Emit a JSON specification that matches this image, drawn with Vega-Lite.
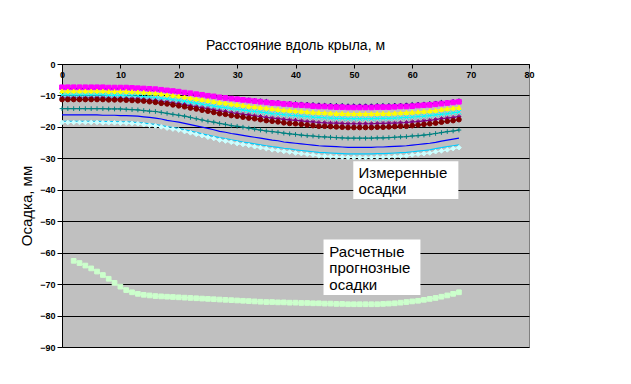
{
"$schema":"https://vega.github.io/schema/vega-lite/v6.json",
"width":467,"height":283,
"autosize":{"type":"none"},
"padding":{"left":62,"top":64,"right":102,"bottom":37},
"background":"white",
"title":{"text":"Расстояние вдоль крыла, м","fontSize":14,"fontWeight":"normal","font":"Liberation Sans","color":"black","offset":7},
"config":{"view":{"fill":"#c0c0c0","stroke":"#808080","strokeWidth":1},"font":"Liberation Sans"},
"datasets":{
"series":[
{"s":"N","x":0,"y":-7.8},{"s":"N","x":1,"y":-7.8},{"s":"N","x":2,"y":-7.8},{"s":"N","x":3,"y":-7.8},{"s":"N","x":4,"y":-7.8},{"s":"N","x":5,"y":-7.8},{"s":"N","x":6,"y":-7.8},{"s":"N","x":7,"y":-7.8},{"s":"N","x":8,"y":-7.9},{"s":"N","x":9,"y":-7.9},{"s":"N","x":10,"y":-7.9},{"s":"N","x":11,"y":-7.9},{"s":"N","x":12,"y":-8.0},{"s":"N","x":13,"y":-8.0},{"s":"N","x":14,"y":-8.1},{"s":"N","x":15,"y":-8.3},{"s":"N","x":16,"y":-8.4},{"s":"N","x":17,"y":-8.5},{"s":"N","x":18,"y":-8.7},{"s":"N","x":19,"y":-8.9},{"s":"N","x":20,"y":-9.0},{"s":"N","x":21,"y":-9.3},{"s":"N","x":22,"y":-9.5},{"s":"N","x":23,"y":-9.7},{"s":"N","x":24,"y":-9.9},{"s":"N","x":25,"y":-10.2},{"s":"N","x":26,"y":-10.4},{"s":"N","x":27,"y":-10.6},{"s":"N","x":28,"y":-10.8},{"s":"N","x":29,"y":-11.0},{"s":"N","x":30,"y":-11.2},{"s":"N","x":31,"y":-11.3},{"s":"N","x":32,"y":-11.5},{"s":"N","x":33,"y":-11.7},{"s":"N","x":34,"y":-11.8},{"s":"N","x":35,"y":-12.0},{"s":"N","x":36,"y":-12.2},{"s":"N","x":37,"y":-12.3},{"s":"N","x":38,"y":-12.5},{"s":"N","x":39,"y":-12.6},{"s":"N","x":40,"y":-12.7},{"s":"N","x":41,"y":-12.8},{"s":"N","x":42,"y":-12.9},{"s":"N","x":43,"y":-13.0},{"s":"N","x":44,"y":-13.1},{"s":"N","x":45,"y":-13.2},{"s":"N","x":46,"y":-13.2},{"s":"N","x":47,"y":-13.3},{"s":"N","x":48,"y":-13.3},{"s":"N","x":49,"y":-13.4},{"s":"N","x":50,"y":-13.4},{"s":"N","x":51,"y":-13.4},{"s":"N","x":52,"y":-13.4},{"s":"N","x":53,"y":-13.4},{"s":"N","x":54,"y":-13.3},{"s":"N","x":55,"y":-13.3},{"s":"N","x":56,"y":-13.3},{"s":"N","x":57,"y":-13.2},{"s":"N","x":58,"y":-13.2},{"s":"N","x":59,"y":-13.1},{"s":"N","x":60,"y":-13.0},{"s":"N","x":61,"y":-12.9},{"s":"N","x":62,"y":-12.8},{"s":"N","x":63,"y":-12.7},{"s":"N","x":64,"y":-12.5},{"s":"N","x":65,"y":-12.3},{"s":"N","x":66,"y":-12.2},{"s":"N","x":67,"y":-12.0},{"s":"N","x":68,"y":-11.8},
{"s":"M","x":0,"y":-7.4},{"s":"M","x":1,"y":-7.4},{"s":"M","x":2,"y":-7.4},{"s":"M","x":3,"y":-7.4},{"s":"M","x":4,"y":-7.4},{"s":"M","x":5,"y":-7.4},{"s":"M","x":6,"y":-7.4},{"s":"M","x":7,"y":-7.4},{"s":"M","x":8,"y":-7.5},{"s":"M","x":9,"y":-7.5},{"s":"M","x":10,"y":-7.5},{"s":"M","x":11,"y":-7.5},{"s":"M","x":12,"y":-7.6},{"s":"M","x":13,"y":-7.7},{"s":"M","x":14,"y":-7.8},{"s":"M","x":15,"y":-7.9},{"s":"M","x":16,"y":-8.0},{"s":"M","x":17,"y":-8.2},{"s":"M","x":18,"y":-8.4},{"s":"M","x":19,"y":-8.6},{"s":"M","x":20,"y":-8.8},{"s":"M","x":21,"y":-9.1},{"s":"M","x":22,"y":-9.3},{"s":"M","x":23,"y":-9.6},{"s":"M","x":24,"y":-9.8},{"s":"M","x":25,"y":-10.1},{"s":"M","x":26,"y":-10.3},{"s":"M","x":27,"y":-10.6},{"s":"M","x":28,"y":-10.8},{"s":"M","x":29,"y":-11.0},{"s":"M","x":30,"y":-11.2},{"s":"M","x":31,"y":-11.4},{"s":"M","x":32,"y":-11.6},{"s":"M","x":33,"y":-11.8},{"s":"M","x":34,"y":-12.0},{"s":"M","x":35,"y":-12.2},{"s":"M","x":36,"y":-12.4},{"s":"M","x":37,"y":-12.5},{"s":"M","x":38,"y":-12.7},{"s":"M","x":39,"y":-12.8},{"s":"M","x":40,"y":-13.0},{"s":"M","x":41,"y":-13.1},{"s":"M","x":42,"y":-13.2},{"s":"M","x":43,"y":-13.4},{"s":"M","x":44,"y":-13.5},{"s":"M","x":45,"y":-13.5},{"s":"M","x":46,"y":-13.6},{"s":"M","x":47,"y":-13.7},{"s":"M","x":48,"y":-13.7},{"s":"M","x":49,"y":-13.8},{"s":"M","x":50,"y":-13.8},{"s":"M","x":51,"y":-13.8},{"s":"M","x":52,"y":-13.8},{"s":"M","x":53,"y":-13.8},{"s":"M","x":54,"y":-13.7},{"s":"M","x":55,"y":-13.7},{"s":"M","x":56,"y":-13.7},{"s":"M","x":57,"y":-13.6},{"s":"M","x":58,"y":-13.5},{"s":"M","x":59,"y":-13.5},{"s":"M","x":60,"y":-13.4},{"s":"M","x":61,"y":-13.2},{"s":"M","x":62,"y":-13.1},{"s":"M","x":63,"y":-13.0},{"s":"M","x":64,"y":-12.8},{"s":"M","x":65,"y":-12.6},{"s":"M","x":66,"y":-12.4},{"s":"M","x":67,"y":-12.2},{"s":"M","x":68,"y":-12.0},
{"s":"Y","x":0,"y":-8.6},{"s":"Y","x":1,"y":-8.6},{"s":"Y","x":2,"y":-8.6},{"s":"Y","x":3,"y":-8.6},{"s":"Y","x":4,"y":-8.6},{"s":"Y","x":5,"y":-8.6},{"s":"Y","x":6,"y":-8.6},{"s":"Y","x":7,"y":-8.6},{"s":"Y","x":8,"y":-8.7},{"s":"Y","x":9,"y":-8.7},{"s":"Y","x":10,"y":-8.7},{"s":"Y","x":11,"y":-8.7},{"s":"Y","x":12,"y":-8.8},{"s":"Y","x":13,"y":-8.9},{"s":"Y","x":14,"y":-9.0},{"s":"Y","x":15,"y":-9.2},{"s":"Y","x":16,"y":-9.3},{"s":"Y","x":17,"y":-9.5},{"s":"Y","x":18,"y":-9.8},{"s":"Y","x":19,"y":-10.0},{"s":"Y","x":20,"y":-10.2},{"s":"Y","x":21,"y":-10.5},{"s":"Y","x":22,"y":-10.8},{"s":"Y","x":23,"y":-11.1},{"s":"Y","x":24,"y":-11.3},{"s":"Y","x":25,"y":-11.6},{"s":"Y","x":26,"y":-11.9},{"s":"Y","x":27,"y":-12.2},{"s":"Y","x":28,"y":-12.4},{"s":"Y","x":29,"y":-12.7},{"s":"Y","x":30,"y":-12.9},{"s":"Y","x":31,"y":-13.1},{"s":"Y","x":32,"y":-13.4},{"s":"Y","x":33,"y":-13.6},{"s":"Y","x":34,"y":-13.8},{"s":"Y","x":35,"y":-14.0},{"s":"Y","x":36,"y":-14.2},{"s":"Y","x":37,"y":-14.4},{"s":"Y","x":38,"y":-14.6},{"s":"Y","x":39,"y":-14.7},{"s":"Y","x":40,"y":-14.9},{"s":"Y","x":41,"y":-15.0},{"s":"Y","x":42,"y":-15.2},{"s":"Y","x":43,"y":-15.3},{"s":"Y","x":44,"y":-15.4},{"s":"Y","x":45,"y":-15.5},{"s":"Y","x":46,"y":-15.6},{"s":"Y","x":47,"y":-15.7},{"s":"Y","x":48,"y":-15.7},{"s":"Y","x":49,"y":-15.8},{"s":"Y","x":50,"y":-15.8},{"s":"Y","x":51,"y":-15.8},{"s":"Y","x":52,"y":-15.8},{"s":"Y","x":53,"y":-15.8},{"s":"Y","x":54,"y":-15.7},{"s":"Y","x":55,"y":-15.7},{"s":"Y","x":56,"y":-15.7},{"s":"Y","x":57,"y":-15.6},{"s":"Y","x":58,"y":-15.5},{"s":"Y","x":59,"y":-15.4},{"s":"Y","x":60,"y":-15.3},{"s":"Y","x":61,"y":-15.2},{"s":"Y","x":62,"y":-15.0},{"s":"Y","x":63,"y":-14.9},{"s":"Y","x":64,"y":-14.7},{"s":"Y","x":65,"y":-14.4},{"s":"Y","x":66,"y":-14.2},{"s":"Y","x":67,"y":-14.0},{"s":"Y","x":68,"y":-13.8},
{"s":"C","x":0,"y":-9.9},{"s":"C","x":1,"y":-9.9},{"s":"C","x":2,"y":-9.9},{"s":"C","x":3,"y":-9.9},{"s":"C","x":4,"y":-9.9},{"s":"C","x":5,"y":-9.9},{"s":"C","x":6,"y":-9.9},{"s":"C","x":7,"y":-9.9},{"s":"C","x":8,"y":-10.0},{"s":"C","x":9,"y":-10.0},{"s":"C","x":10,"y":-10.0},{"s":"C","x":11,"y":-10.1},{"s":"C","x":12,"y":-10.1},{"s":"C","x":13,"y":-10.2},{"s":"C","x":14,"y":-10.4},{"s":"C","x":15,"y":-10.5},{"s":"C","x":16,"y":-10.7},{"s":"C","x":17,"y":-10.9},{"s":"C","x":18,"y":-11.1},{"s":"C","x":19,"y":-11.3},{"s":"C","x":20,"y":-11.6},{"s":"C","x":21,"y":-11.9},{"s":"C","x":22,"y":-12.2},{"s":"C","x":23,"y":-12.5},{"s":"C","x":24,"y":-12.8},{"s":"C","x":25,"y":-13.1},{"s":"C","x":26,"y":-13.4},{"s":"C","x":27,"y":-13.7},{"s":"C","x":28,"y":-13.9},{"s":"C","x":29,"y":-14.2},{"s":"C","x":30,"y":-14.4},{"s":"C","x":31,"y":-14.6},{"s":"C","x":32,"y":-14.9},{"s":"C","x":33,"y":-15.1},{"s":"C","x":34,"y":-15.3},{"s":"C","x":35,"y":-15.5},{"s":"C","x":36,"y":-15.8},{"s":"C","x":37,"y":-15.9},{"s":"C","x":38,"y":-16.1},{"s":"C","x":39,"y":-16.3},{"s":"C","x":40,"y":-16.4},{"s":"C","x":41,"y":-16.6},{"s":"C","x":42,"y":-16.7},{"s":"C","x":43,"y":-16.9},{"s":"C","x":44,"y":-17.0},{"s":"C","x":45,"y":-17.1},{"s":"C","x":46,"y":-17.2},{"s":"C","x":47,"y":-17.3},{"s":"C","x":48,"y":-17.3},{"s":"C","x":49,"y":-17.4},{"s":"C","x":50,"y":-17.4},{"s":"C","x":51,"y":-17.4},{"s":"C","x":52,"y":-17.4},{"s":"C","x":53,"y":-17.4},{"s":"C","x":54,"y":-17.3},{"s":"C","x":55,"y":-17.3},{"s":"C","x":56,"y":-17.3},{"s":"C","x":57,"y":-17.2},{"s":"C","x":58,"y":-17.1},{"s":"C","x":59,"y":-17.0},{"s":"C","x":60,"y":-16.9},{"s":"C","x":61,"y":-16.7},{"s":"C","x":62,"y":-16.6},{"s":"C","x":63,"y":-16.4},{"s":"C","x":64,"y":-16.2},{"s":"C","x":65,"y":-16.0},{"s":"C","x":66,"y":-15.8},{"s":"C","x":67,"y":-15.5},{"s":"C","x":68,"y":-15.3},
{"s":"P","x":0,"y":-10.8},{"s":"P","x":1,"y":-10.8},{"s":"P","x":2,"y":-10.8},{"s":"P","x":3,"y":-10.8},{"s":"P","x":4,"y":-10.8},{"s":"P","x":5,"y":-10.8},{"s":"P","x":6,"y":-10.8},{"s":"P","x":7,"y":-10.8},{"s":"P","x":8,"y":-10.9},{"s":"P","x":9,"y":-10.9},{"s":"P","x":10,"y":-10.9},{"s":"P","x":11,"y":-11.0},{"s":"P","x":12,"y":-11.1},{"s":"P","x":13,"y":-11.1},{"s":"P","x":14,"y":-11.3},{"s":"P","x":15,"y":-11.5},{"s":"P","x":16,"y":-11.6},{"s":"P","x":17,"y":-11.9},{"s":"P","x":18,"y":-12.1},{"s":"P","x":19,"y":-12.4},{"s":"P","x":20,"y":-12.6},{"s":"P","x":21,"y":-12.9},{"s":"P","x":22,"y":-13.3},{"s":"P","x":23,"y":-13.6},{"s":"P","x":24,"y":-13.9},{"s":"P","x":25,"y":-14.2},{"s":"P","x":26,"y":-14.6},{"s":"P","x":27,"y":-14.9},{"s":"P","x":28,"y":-15.1},{"s":"P","x":29,"y":-15.5},{"s":"P","x":30,"y":-15.7},{"s":"P","x":31,"y":-16.0},{"s":"P","x":32,"y":-16.2},{"s":"P","x":33,"y":-16.5},{"s":"P","x":34,"y":-16.7},{"s":"P","x":35,"y":-17.0},{"s":"P","x":36,"y":-17.2},{"s":"P","x":37,"y":-17.4},{"s":"P","x":38,"y":-17.6},{"s":"P","x":39,"y":-17.8},{"s":"P","x":40,"y":-17.9},{"s":"P","x":41,"y":-18.1},{"s":"P","x":42,"y":-18.3},{"s":"P","x":43,"y":-18.4},{"s":"P","x":44,"y":-18.6},{"s":"P","x":45,"y":-18.7},{"s":"P","x":46,"y":-18.8},{"s":"P","x":47,"y":-18.8},{"s":"P","x":48,"y":-18.9},{"s":"P","x":49,"y":-19.0},{"s":"P","x":50,"y":-19.0},{"s":"P","x":51,"y":-19.0},{"s":"P","x":52,"y":-19.0},{"s":"P","x":53,"y":-19.0},{"s":"P","x":54,"y":-18.9},{"s":"P","x":55,"y":-18.9},{"s":"P","x":56,"y":-18.8},{"s":"P","x":57,"y":-18.8},{"s":"P","x":58,"y":-18.7},{"s":"P","x":59,"y":-18.6},{"s":"P","x":60,"y":-18.4},{"s":"P","x":61,"y":-18.3},{"s":"P","x":62,"y":-18.1},{"s":"P","x":63,"y":-17.9},{"s":"P","x":64,"y":-17.7},{"s":"P","x":65,"y":-17.4},{"s":"P","x":66,"y":-17.2},{"s":"P","x":67,"y":-17.0},{"s":"P","x":68,"y":-16.7},
{"s":"R","x":0,"y":-11.3},{"s":"R","x":1,"y":-11.3},{"s":"R","x":2,"y":-11.3},{"s":"R","x":3,"y":-11.3},{"s":"R","x":4,"y":-11.3},{"s":"R","x":5,"y":-11.3},{"s":"R","x":6,"y":-11.3},{"s":"R","x":7,"y":-11.3},{"s":"R","x":8,"y":-11.4},{"s":"R","x":9,"y":-11.4},{"s":"R","x":10,"y":-11.4},{"s":"R","x":11,"y":-11.5},{"s":"R","x":12,"y":-11.6},{"s":"R","x":13,"y":-11.7},{"s":"R","x":14,"y":-11.8},{"s":"R","x":15,"y":-12.0},{"s":"R","x":16,"y":-12.2},{"s":"R","x":17,"y":-12.5},{"s":"R","x":18,"y":-12.7},{"s":"R","x":19,"y":-13.0},{"s":"R","x":20,"y":-13.3},{"s":"R","x":21,"y":-13.6},{"s":"R","x":22,"y":-14.0},{"s":"R","x":23,"y":-14.3},{"s":"R","x":24,"y":-14.7},{"s":"R","x":25,"y":-15.0},{"s":"R","x":26,"y":-15.4},{"s":"R","x":27,"y":-15.8},{"s":"R","x":28,"y":-16.0},{"s":"R","x":29,"y":-16.4},{"s":"R","x":30,"y":-16.6},{"s":"R","x":31,"y":-16.9},{"s":"R","x":32,"y":-17.2},{"s":"R","x":33,"y":-17.4},{"s":"R","x":34,"y":-17.7},{"s":"R","x":35,"y":-18.0},{"s":"R","x":36,"y":-18.2},{"s":"R","x":37,"y":-18.4},{"s":"R","x":38,"y":-18.7},{"s":"R","x":39,"y":-18.9},{"s":"R","x":40,"y":-19.0},{"s":"R","x":41,"y":-19.2},{"s":"R","x":42,"y":-19.4},{"s":"R","x":43,"y":-19.6},{"s":"R","x":44,"y":-19.8},{"s":"R","x":45,"y":-19.8},{"s":"R","x":46,"y":-19.9},{"s":"R","x":47,"y":-20.0},{"s":"R","x":48,"y":-20.1},{"s":"R","x":49,"y":-20.2},{"s":"R","x":50,"y":-20.2},{"s":"R","x":51,"y":-20.2},{"s":"R","x":52,"y":-20.2},{"s":"R","x":53,"y":-20.2},{"s":"R","x":54,"y":-20.1},{"s":"R","x":55,"y":-20.1},{"s":"R","x":56,"y":-20.0},{"s":"R","x":57,"y":-19.9},{"s":"R","x":58,"y":-19.8},{"s":"R","x":59,"y":-19.8},{"s":"R","x":60,"y":-19.6},{"s":"R","x":61,"y":-19.4},{"s":"R","x":62,"y":-19.2},{"s":"R","x":63,"y":-19.0},{"s":"R","x":64,"y":-18.8},{"s":"R","x":65,"y":-18.5},{"s":"R","x":66,"y":-18.2},{"s":"R","x":67,"y":-18.0},{"s":"R","x":68,"y":-17.7},
{"s":"T","x":0,"y":-14.2},{"s":"T","x":1,"y":-14.2},{"s":"T","x":2,"y":-14.2},{"s":"T","x":3,"y":-14.2},{"s":"T","x":4,"y":-14.2},{"s":"T","x":5,"y":-14.2},{"s":"T","x":6,"y":-14.2},{"s":"T","x":7,"y":-14.2},{"s":"T","x":8,"y":-14.3},{"s":"T","x":9,"y":-14.3},{"s":"T","x":10,"y":-14.3},{"s":"T","x":11,"y":-14.4},{"s":"T","x":12,"y":-14.5},{"s":"T","x":13,"y":-14.6},{"s":"T","x":14,"y":-14.8},{"s":"T","x":15,"y":-15.0},{"s":"T","x":16,"y":-15.1},{"s":"T","x":17,"y":-15.4},{"s":"T","x":18,"y":-15.7},{"s":"T","x":19,"y":-16.0},{"s":"T","x":20,"y":-16.3},{"s":"T","x":21,"y":-16.6},{"s":"T","x":22,"y":-17.0},{"s":"T","x":23,"y":-17.4},{"s":"T","x":24,"y":-17.8},{"s":"T","x":25,"y":-18.2},{"s":"T","x":26,"y":-18.5},{"s":"T","x":27,"y":-18.9},{"s":"T","x":28,"y":-19.2},{"s":"T","x":29,"y":-19.6},{"s":"T","x":30,"y":-19.8},{"s":"T","x":31,"y":-20.1},{"s":"T","x":32,"y":-20.4},{"s":"T","x":33,"y":-20.7},{"s":"T","x":34,"y":-21.0},{"s":"T","x":35,"y":-21.3},{"s":"T","x":36,"y":-21.5},{"s":"T","x":37,"y":-21.7},{"s":"T","x":38,"y":-22.0},{"s":"T","x":39,"y":-22.2},{"s":"T","x":40,"y":-22.4},{"s":"T","x":41,"y":-22.6},{"s":"T","x":42,"y":-22.8},{"s":"T","x":43,"y":-22.9},{"s":"T","x":44,"y":-23.1},{"s":"T","x":45,"y":-23.2},{"s":"T","x":46,"y":-23.3},{"s":"T","x":47,"y":-23.4},{"s":"T","x":48,"y":-23.5},{"s":"T","x":49,"y":-23.6},{"s":"T","x":50,"y":-23.6},{"s":"T","x":51,"y":-23.6},{"s":"T","x":52,"y":-23.6},{"s":"T","x":53,"y":-23.6},{"s":"T","x":54,"y":-23.5},{"s":"T","x":55,"y":-23.5},{"s":"T","x":56,"y":-23.4},{"s":"T","x":57,"y":-23.3},{"s":"T","x":58,"y":-23.2},{"s":"T","x":59,"y":-23.1},{"s":"T","x":60,"y":-22.9},{"s":"T","x":61,"y":-22.8},{"s":"T","x":62,"y":-22.6},{"s":"T","x":63,"y":-22.4},{"s":"T","x":64,"y":-22.1},{"s":"T","x":65,"y":-21.8},{"s":"T","x":66,"y":-21.5},{"s":"T","x":67,"y":-21.3},{"s":"T","x":68,"y":-21.0},
{"s":"B","x":0,"y":-16.2},{"s":"B","x":1,"y":-16.2},{"s":"B","x":2,"y":-16.2},{"s":"B","x":3,"y":-16.2},{"s":"B","x":4,"y":-16.2},{"s":"B","x":5,"y":-16.2},{"s":"B","x":6,"y":-16.2},{"s":"B","x":7,"y":-16.3},{"s":"B","x":8,"y":-16.3},{"s":"B","x":9,"y":-16.3},{"s":"B","x":10,"y":-16.4},{"s":"B","x":11,"y":-16.4},{"s":"B","x":12,"y":-16.5},{"s":"B","x":13,"y":-16.6},{"s":"B","x":14,"y":-16.8},{"s":"B","x":15,"y":-17.0},{"s":"B","x":16,"y":-17.2},{"s":"B","x":17,"y":-17.5},{"s":"B","x":18,"y":-17.9},{"s":"B","x":19,"y":-18.2},{"s":"B","x":20,"y":-18.5},{"s":"B","x":21,"y":-18.9},{"s":"B","x":22,"y":-19.3},{"s":"B","x":23,"y":-19.7},{"s":"B","x":24,"y":-20.1},{"s":"B","x":25,"y":-20.5},{"s":"B","x":26,"y":-20.9},{"s":"B","x":27,"y":-21.4},{"s":"B","x":28,"y":-21.7},{"s":"B","x":29,"y":-22.1},{"s":"B","x":30,"y":-22.4},{"s":"B","x":31,"y":-22.7},{"s":"B","x":32,"y":-23.0},{"s":"B","x":33,"y":-23.3},{"s":"B","x":34,"y":-23.6},{"s":"B","x":35,"y":-23.9},{"s":"B","x":36,"y":-24.2},{"s":"B","x":37,"y":-24.4},{"s":"B","x":38,"y":-24.8},{"s":"B","x":39,"y":-25.0},{"s":"B","x":40,"y":-25.2},{"s":"B","x":41,"y":-25.4},{"s":"B","x":42,"y":-25.6},{"s":"B","x":43,"y":-25.8},{"s":"B","x":44,"y":-26.0},{"s":"B","x":45,"y":-26.1},{"s":"B","x":46,"y":-26.2},{"s":"B","x":47,"y":-26.3},{"s":"B","x":48,"y":-26.4},{"s":"B","x":49,"y":-26.5},{"s":"B","x":50,"y":-26.5},{"s":"B","x":51,"y":-26.5},{"s":"B","x":52,"y":-26.5},{"s":"B","x":53,"y":-26.5},{"s":"B","x":54,"y":-26.4},{"s":"B","x":55,"y":-26.4},{"s":"B","x":56,"y":-26.3},{"s":"B","x":57,"y":-26.2},{"s":"B","x":58,"y":-26.1},{"s":"B","x":59,"y":-26.0},{"s":"B","x":60,"y":-25.8},{"s":"B","x":61,"y":-25.6},{"s":"B","x":62,"y":-25.4},{"s":"B","x":63,"y":-25.2},{"s":"B","x":64,"y":-24.9},{"s":"B","x":65,"y":-24.5},{"s":"B","x":66,"y":-24.2},{"s":"B","x":67,"y":-23.9},{"s":"B","x":68,"y":-23.6},
{"s":"S","x":0,"y":-18.2},{"s":"S","x":1,"y":-18.2},{"s":"S","x":2,"y":-18.2},{"s":"S","x":3,"y":-18.2},{"s":"S","x":4,"y":-18.2},{"s":"S","x":5,"y":-18.2},{"s":"S","x":6,"y":-18.2},{"s":"S","x":7,"y":-18.3},{"s":"S","x":8,"y":-18.3},{"s":"S","x":9,"y":-18.3},{"s":"S","x":10,"y":-18.4},{"s":"S","x":11,"y":-18.4},{"s":"S","x":12,"y":-18.5},{"s":"S","x":13,"y":-18.6},{"s":"S","x":14,"y":-18.8},{"s":"S","x":15,"y":-19.0},{"s":"S","x":16,"y":-19.2},{"s":"S","x":17,"y":-19.6},{"s":"S","x":18,"y":-19.9},{"s":"S","x":19,"y":-20.2},{"s":"S","x":20,"y":-20.5},{"s":"S","x":21,"y":-20.9},{"s":"S","x":22,"y":-21.3},{"s":"S","x":23,"y":-21.7},{"s":"S","x":24,"y":-22.2},{"s":"S","x":25,"y":-22.6},{"s":"S","x":26,"y":-23.0},{"s":"S","x":27,"y":-23.4},{"s":"S","x":28,"y":-23.7},{"s":"S","x":29,"y":-24.1},{"s":"S","x":30,"y":-24.4},{"s":"S","x":31,"y":-24.8},{"s":"S","x":32,"y":-25.1},{"s":"S","x":33,"y":-25.4},{"s":"S","x":34,"y":-25.7},{"s":"S","x":35,"y":-26.0},{"s":"S","x":36,"y":-26.3},{"s":"S","x":37,"y":-26.5},{"s":"S","x":38,"y":-26.8},{"s":"S","x":39,"y":-27.0},{"s":"S","x":40,"y":-27.3},{"s":"S","x":41,"y":-27.5},{"s":"S","x":42,"y":-27.7},{"s":"S","x":43,"y":-27.9},{"s":"S","x":44,"y":-28.1},{"s":"S","x":45,"y":-28.2},{"s":"S","x":46,"y":-28.3},{"s":"S","x":47,"y":-28.4},{"s":"S","x":48,"y":-28.5},{"s":"S","x":49,"y":-28.6},{"s":"S","x":50,"y":-28.6},{"s":"S","x":51,"y":-28.6},{"s":"S","x":52,"y":-28.6},{"s":"S","x":53,"y":-28.6},{"s":"S","x":54,"y":-28.5},{"s":"S","x":55,"y":-28.5},{"s":"S","x":56,"y":-28.4},{"s":"S","x":57,"y":-28.3},{"s":"S","x":58,"y":-28.2},{"s":"S","x":59,"y":-28.1},{"s":"S","x":60,"y":-27.9},{"s":"S","x":61,"y":-27.7},{"s":"S","x":62,"y":-27.5},{"s":"S","x":63,"y":-27.3},{"s":"S","x":64,"y":-26.9},{"s":"S","x":65,"y":-26.6},{"s":"S","x":66,"y":-26.3},{"s":"S","x":67,"y":-26.0},{"s":"S","x":68,"y":-25.7},
{"s":"L","x":0,"y":-18.6},{"s":"L","x":1,"y":-18.6},{"s":"L","x":2,"y":-18.6},{"s":"L","x":3,"y":-18.6},{"s":"L","x":4,"y":-18.6},{"s":"L","x":5,"y":-18.6},{"s":"L","x":6,"y":-18.6},{"s":"L","x":7,"y":-18.7},{"s":"L","x":8,"y":-18.7},{"s":"L","x":9,"y":-18.7},{"s":"L","x":10,"y":-18.8},{"s":"L","x":11,"y":-18.8},{"s":"L","x":12,"y":-18.9},{"s":"L","x":13,"y":-19.0},{"s":"L","x":14,"y":-19.3},{"s":"L","x":15,"y":-19.5},{"s":"L","x":16,"y":-19.7},{"s":"L","x":17,"y":-20.0},{"s":"L","x":18,"y":-20.4},{"s":"L","x":19,"y":-20.7},{"s":"L","x":20,"y":-21.0},{"s":"L","x":21,"y":-21.5},{"s":"L","x":22,"y":-21.9},{"s":"L","x":23,"y":-22.4},{"s":"L","x":24,"y":-22.8},{"s":"L","x":25,"y":-23.3},{"s":"L","x":26,"y":-23.7},{"s":"L","x":27,"y":-24.2},{"s":"L","x":28,"y":-24.5},{"s":"L","x":29,"y":-24.9},{"s":"L","x":30,"y":-25.3},{"s":"L","x":31,"y":-25.6},{"s":"L","x":32,"y":-25.9},{"s":"L","x":33,"y":-26.3},{"s":"L","x":34,"y":-26.6},{"s":"L","x":35,"y":-26.9},{"s":"L","x":36,"y":-27.3},{"s":"L","x":37,"y":-27.5},{"s":"L","x":38,"y":-27.8},{"s":"L","x":39,"y":-28.0},{"s":"L","x":40,"y":-28.3},{"s":"L","x":41,"y":-28.5},{"s":"L","x":42,"y":-28.7},{"s":"L","x":43,"y":-28.9},{"s":"L","x":44,"y":-29.2},{"s":"L","x":45,"y":-29.3},{"s":"L","x":46,"y":-29.4},{"s":"L","x":47,"y":-29.5},{"s":"L","x":48,"y":-29.6},{"s":"L","x":49,"y":-29.7},{"s":"L","x":50,"y":-29.7},{"s":"L","x":51,"y":-29.7},{"s":"L","x":52,"y":-29.7},{"s":"L","x":53,"y":-29.7},{"s":"L","x":54,"y":-29.6},{"s":"L","x":55,"y":-29.6},{"s":"L","x":56,"y":-29.5},{"s":"L","x":57,"y":-29.4},{"s":"L","x":58,"y":-29.3},{"s":"L","x":59,"y":-29.2},{"s":"L","x":60,"y":-28.9},{"s":"L","x":61,"y":-28.7},{"s":"L","x":62,"y":-28.5},{"s":"L","x":63,"y":-28.3},{"s":"L","x":64,"y":-27.9},{"s":"L","x":65,"y":-27.6},{"s":"L","x":66,"y":-27.3},{"s":"L","x":67,"y":-26.9},{"s":"L","x":68,"y":-26.6},
{"s":"G","x":2,"y":-62.6},{"s":"G","x":3,"y":-63.3},{"s":"G","x":4,"y":-64.1},{"s":"G","x":5,"y":-65.0},{"s":"G","x":6,"y":-66.0},{"s":"G","x":7,"y":-67.1},{"s":"G","x":8,"y":-68.3},{"s":"G","x":9,"y":-69.6},{"s":"G","x":10,"y":-70.8},{"s":"G","x":11,"y":-71.9},{"s":"G","x":12,"y":-72.6},{"s":"G","x":13,"y":-73.1},{"s":"G","x":14,"y":-73.4},{"s":"G","x":15,"y":-73.6},{"s":"G","x":16,"y":-73.8},{"s":"G","x":17,"y":-73.9},{"s":"G","x":18,"y":-74.0},{"s":"G","x":19,"y":-74.1},{"s":"G","x":20,"y":-74.2},{"s":"G","x":21,"y":-74.3},{"s":"G","x":22,"y":-74.4},{"s":"G","x":23,"y":-74.5},{"s":"G","x":24,"y":-74.6},{"s":"G","x":25,"y":-74.7},{"s":"G","x":26,"y":-74.8},{"s":"G","x":27,"y":-74.9},{"s":"G","x":28,"y":-75.0},{"s":"G","x":29,"y":-75.1},{"s":"G","x":30,"y":-75.2},{"s":"G","x":31,"y":-75.3},{"s":"G","x":32,"y":-75.4},{"s":"G","x":33,"y":-75.5},{"s":"G","x":34,"y":-75.6},{"s":"G","x":35,"y":-75.7},{"s":"G","x":36,"y":-75.7},{"s":"G","x":37,"y":-75.8},{"s":"G","x":38,"y":-75.8},{"s":"G","x":39,"y":-75.9},{"s":"G","x":40,"y":-75.9},{"s":"G","x":41,"y":-76.0},{"s":"G","x":42,"y":-76.0},{"s":"G","x":43,"y":-76.1},{"s":"G","x":44,"y":-76.1},{"s":"G","x":45,"y":-76.2},{"s":"G","x":46,"y":-76.2},{"s":"G","x":47,"y":-76.3},{"s":"G","x":48,"y":-76.3},{"s":"G","x":49,"y":-76.4},{"s":"G","x":50,"y":-76.4},{"s":"G","x":51,"y":-76.4},{"s":"G","x":52,"y":-76.4},{"s":"G","x":53,"y":-76.4},{"s":"G","x":54,"y":-76.4},{"s":"G","x":55,"y":-76.3},{"s":"G","x":56,"y":-76.2},{"s":"G","x":57,"y":-76.1},{"s":"G","x":58,"y":-75.9},{"s":"G","x":59,"y":-75.7},{"s":"G","x":60,"y":-75.5},{"s":"G","x":61,"y":-75.3},{"s":"G","x":62,"y":-75.0},{"s":"G","x":63,"y":-74.7},{"s":"G","x":64,"y":-74.4},{"s":"G","x":65,"y":-74.0},{"s":"G","x":66,"y":-73.6},{"s":"G","x":67,"y":-73.1},{"s":"G","x":68,"y":-72.6}
],
"boxes":[
{"x1":49.9,"x2":67.9,"y1":-30.9,"y2":-42.9},
{"x1":44.8,"x2":61.4,"y1":-55.8,"y2":-73.5}
],
"labels":[
{"tx":50.8,"ty":-34.6,"t":"Измеренные"},
{"tx":50.8,"ty":-39.9,"t":"осадки"},
{"tx":45.8,"ty":-59.7,"t":"Расчетные"},
{"tx":45.8,"ty":-65.0,"t":"прогнозные"},
{"tx":45.8,"ty":-70.3,"t":"осадки"}
]
},
"layer":[
{
"data":{"name":"series"},
"mark":{"type":"line","strokeWidth":1.2,"clip":true},
"encoding":{
"x":{"field":"x","type":"quantitative","scale":{"domain":[0,80],"nice":false},
"axis":{"orient":"bottom","offset":-283,"values":[0,10,20,30,40,50,60,70,80],"labelFlush":false,"labelOverlap":false,"grid":false,"domainColor":"black","tickColor":"black","tickSize":4,"labelFontSize":9,"labelFontWeight":"bold","labelColor":"black","labelPadding":2,"title":null}},
"y":{"field":"y","type":"quantitative","scale":{"domain":[-90,0],"nice":false},
"axis":{"values":[0,-10,-20,-30,-40,-50,-60,-70,-80,-90],"tickCount":10,"labelOverlap":false,"labelBound":false,"grid":true,"gridColor":"black","gridOpacity":1,"gridWidth":1,"domainColor":"black","tickColor":"black","tickSize":5,"labelFontSize":9,"labelFontWeight":"bold","labelColor":"black","labelPadding":2,"title":"Осадка, мм","titleFontSize":15,"titleFontWeight":"normal","titleColor":"black","titlePadding":5}},
"color":{"field":"s","type":"nominal","legend":null,
"scale":{"domain":["N","M","Y","C","P","R","T","B","S","L","G"],"range":["#000080","#ff00ff","#ffff00","#00ffff","#800080","#800000","#008080","#0000ff","#00ccff","#ccffff","#ccffcc"]}},
"detail":{"field":"s"}
}
},
{
"data":{"name":"series"},
"transform":[{"filter":{"field":"s","oneOf":["N","M","Y","C","P","R","T","L","G"]}}],
"mark":{"type":"point","filled":true,"strokeWidth":1,"opacity":1,"size":22},
"encoding":{
"x":{"field":"x","type":"quantitative"},
"y":{"field":"y","type":"quantitative"},
"color":{"field":"s","type":"nominal","legend":null},
"stroke":{"field":"s","type":"nominal","legend":null,
"scale":{"domain":["N","M","Y","C","P","R","T","B","S","L","G"],"range":["#000080","#ff00ff","#ffff00","#00ffff","#800080","#800000","#008080","#0000ff","#00ccff","#ccffff","#ccffcc"]}},
"shape":{"field":"s","type":"nominal","legend":null,
"scale":{"domain":["N","M","Y","C","P","R","T","L","G"],"range":["diamond","square","triangle-up","M-1,-1L1,1M-1,1L1,-1","M-1,0H1M0,-1V1M-0.7,-0.7L0.7,0.7M-0.7,0.7L0.7,-0.7","circle","M-1,0H1M0,-1V1","diamond","square"]}}
}
},
{
"data":{"name":"boxes"},
"mark":{"type":"rect","fill":"white","stroke":null},
"encoding":{
"x":{"field":"x1","type":"quantitative"},
"x2":{"field":"x2"},
"y":{"field":"y1","type":"quantitative"},
"y2":{"field":"y2"}
}
},
{
"data":{"name":"labels"},
"mark":{"type":"text","align":"left","baseline":"middle","fontSize":15,"font":"Liberation Sans","color":"black"},
"encoding":{
"x":{"field":"tx","type":"quantitative"},
"y":{"field":"ty","type":"quantitative"},
"text":{"field":"t"}
}
}
]
}
